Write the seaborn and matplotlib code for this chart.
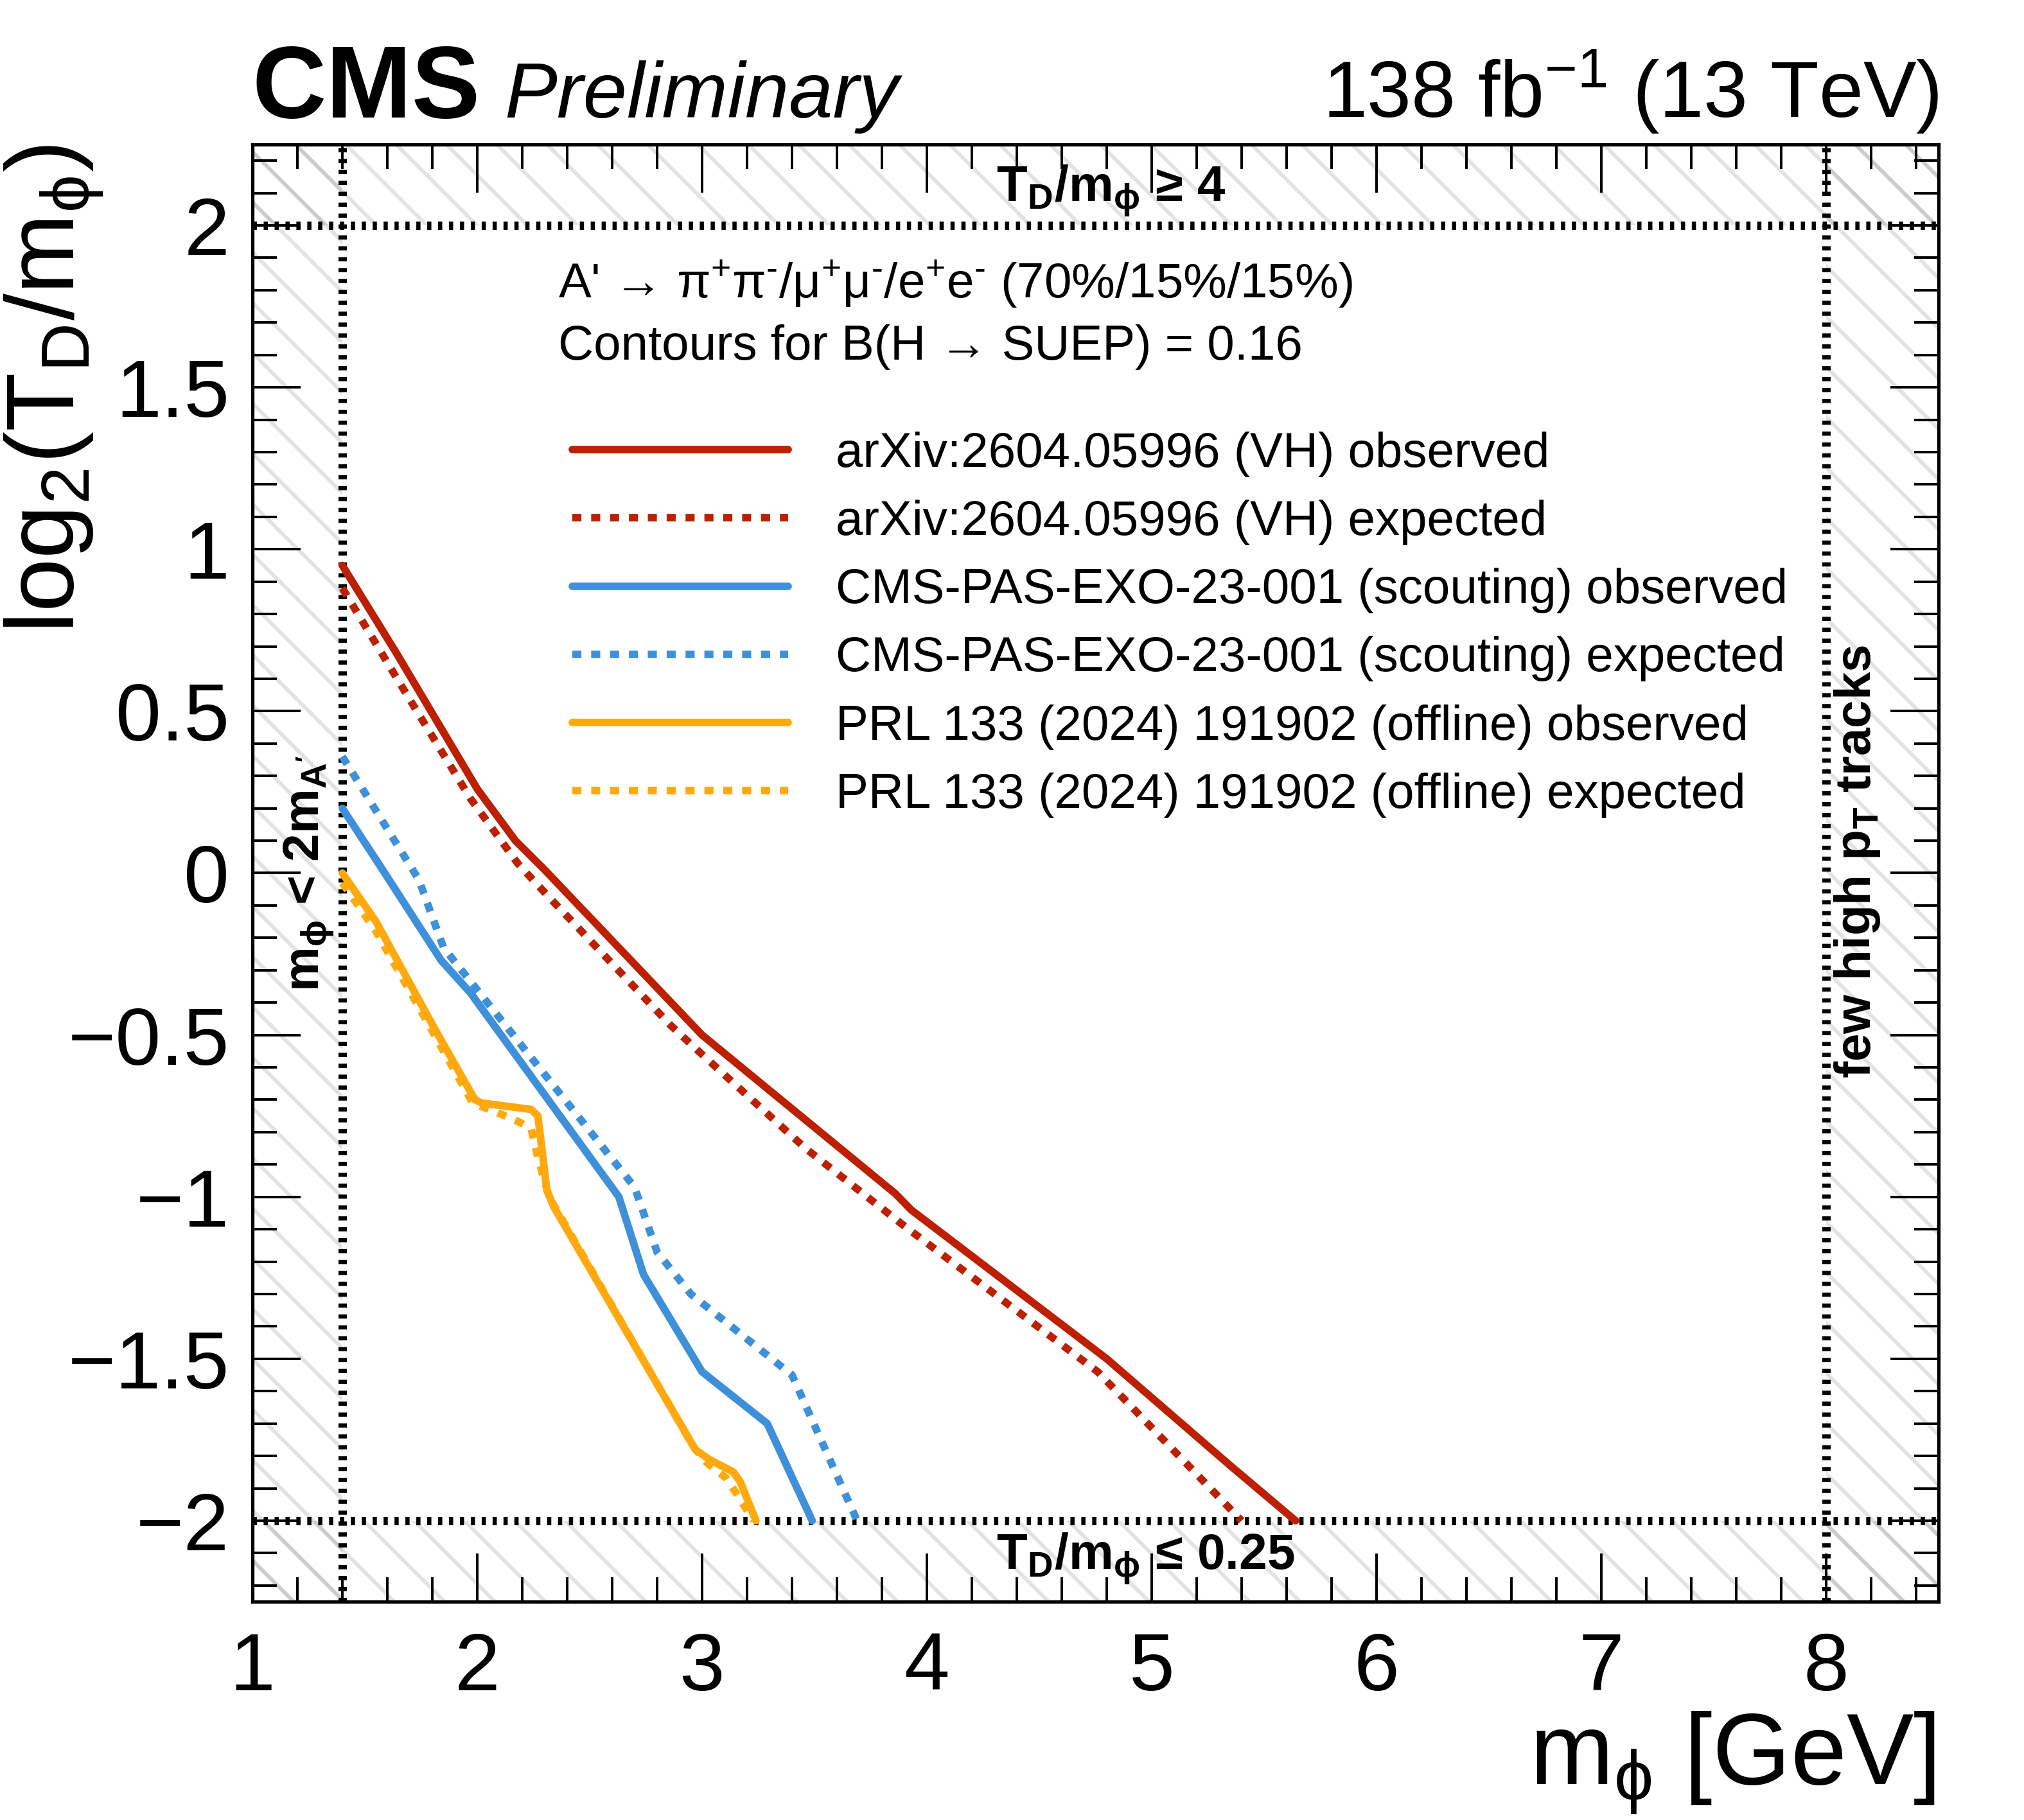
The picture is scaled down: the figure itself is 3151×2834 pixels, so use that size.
import matplotlib
matplotlib.use("Agg")
import matplotlib.pyplot as plt
from matplotlib.ticker import MultipleLocator, FuncFormatter
import seaborn as sns

# contour points: x = m_phi [GeV], y = log2(T_D/m_phi)
vh_obs_x = [1.40, 1.64, 2.00, 2.17, 2.30, 3.00, 3.86, 3.93, 4.80, 5.35, 5.64]
vh_obs_y = [0.95, 0.68, 0.26, 0.10, 0.01, -0.50, -0.99, -1.04, -1.50, -1.83, -2.00]

vh_exp_x = [1.40, 1.67, 1.97, 2.18, 2.30, 2.86, 3.00, 3.46, 3.90, 4.76, 5.40]
vh_exp_y = [0.88, 0.57, 0.23, 0.03, -0.06, -0.47, -0.56, -0.85, -1.09, -1.54, -2.00]

sc_obs_x = [1.40, 1.57, 1.84, 1.97, 2.63, 2.74, 3.00, 3.29, 3.49]
sc_obs_y = [0.20, 0.02, -0.27, -0.37, -1.00, -1.24, -1.54, -1.70, -2.00]

sc_exp_x = [1.40, 1.74, 1.85, 2.70, 2.80, 2.95, 3.40, 3.69]
sc_exp_y = [0.36, -0.02, -0.23, -0.97, -1.17, -1.30, -1.55, -2.00]

prl_obs_x = [1.40, 1.55, 1.81, 1.99, 2.02, 2.24, 2.27, 2.31, 2.34, 2.97, 3.03, 3.14, 3.17, 3.24]
prl_obs_y = [0.00, -0.15, -0.48, -0.70, -0.71, -0.73, -0.75, -0.98, -1.03, -1.78, -1.81, -1.85, -1.88, -2.00]

prl_exp_x = [1.40, 1.55, 1.81, 1.98, 2.09, 2.19, 2.24, 2.27, 2.32, 2.96, 3.02, 3.11, 3.23]
prl_exp_y = [-0.03, -0.18, -0.50, -0.71, -0.74, -0.77, -0.79, -0.88, -1.00, -1.77, -1.82, -1.87, -2.00]

legend_labels = [
    "arXiv:2604.05996 (VH) observed",
    "arXiv:2604.05996 (VH) expected",
    "CMS-PAS-EXO-23-001 (scouting) observed",
    "CMS-PAS-EXO-23-001 (scouting) expected",
    "PRL 133 (2024) 191902 (offline) observed",
    "PRL 133 (2024) 191902 (offline) expected",
]

# excluded regions
mphi_min, mphi_max = 1.4, 8.0
logt_min, logt_max = -2.0, 2.0
x_lim = (1.0, 8.5)
y_lim = (-2.25, 2.25)

RED, BLUE, ORANGE = "#bd1f01", "#3f90da", "#ffa90e"
DASHED = (0, (1.2, 1.3))
DOTTED = (0, (0.5, 0.8))
DPI = 470

sns.set_style("ticks")
plt.rcParams.update({
    "font.family": ["Liberation Sans", "DejaVu Sans"],
    "mathtext.fontset": "custom",
    "mathtext.rm": "Liberation Sans",
    "mathtext.it": "Liberation Sans:italic",
    "mathtext.bf": "Liberation Sans:bold",
    "mathtext.sf": "Liberation Sans",
    "mathtext.default": "regular",
    "hatch.linewidth": 0.9,
    "axes.linewidth": 0.8,
    "axes.edgecolor": "black",
    "text.color": "black",
    "axes.labelcolor": "black",
    "xtick.color": "black",
    "ytick.color": "black",
})

fig = plt.figure(figsize=(3151 / DPI, 2834 / DPI), dpi=DPI)
ax = fig.add_axes([0.1247, 0.11997, 0.83307, 0.80064])

# hatched regions outside the valid parameter space
hatch_col = (0.45, 0.45, 0.45, 0.2)
for lo, hi in [(x_lim[0], mphi_min), (mphi_max, x_lim[1])]:
    ax.axvspan(lo, hi, hatch="\\\\", fill=False, edgecolor=hatch_col, linewidth=0, zorder=0.5)
for lo, hi in [(y_lim[0], logt_min), (logt_max, y_lim[1])]:
    ax.axhspan(lo, hi, hatch="\\\\", fill=False, edgecolor=hatch_col, linewidth=0, zorder=0.5)

for xv in (mphi_min, mphi_max):
    ax.axvline(xv, color="black", lw=2.0, linestyle=DOTTED, dash_capstyle="butt", zorder=1)
for yv in (logt_min, logt_max):
    ax.axhline(yv, color="black", lw=2.0, linestyle=DOTTED, dash_capstyle="butt", zorder=1)

series = [
    (vh_obs_x, vh_obs_y, RED, "-"),
    (vh_exp_x, vh_exp_y, RED, DASHED),
    (sc_obs_x, sc_obs_y, BLUE, "-"),
    (sc_exp_x, sc_exp_y, BLUE, DASHED),
    (prl_obs_x, prl_obs_y, ORANGE, "-"),
    (prl_exp_x, prl_exp_y, ORANGE, DASHED),
]
for (xs, ys, col, ls), lab in zip(series, legend_labels):
    sns.lineplot(x=xs, y=ys, ax=ax, color=col, linewidth=1.8, linestyle=ls,
                 label=lab, sort=False, estimator=None, zorder=3)

ax.set_xlim(*x_lim)
ax.set_ylim(*y_lim)

ax.xaxis.set_major_locator(MultipleLocator(1))
ax.xaxis.set_minor_locator(MultipleLocator(0.2))
ax.yaxis.set_major_locator(MultipleLocator(0.5))
ax.yaxis.set_minor_locator(MultipleLocator(0.1))


def fmt(v, pos):
    if abs(v) < 1e-9:
        return "0"
    return f"{v:g}".replace("-", "\u2212")


ax.yaxis.set_major_formatter(FuncFormatter(fmt))
ax.tick_params(which="both", direction="in", top=True, right=True, width=0.6, color="black")
ax.tick_params(which="major", length=11.5, labelsize=19.5)
ax.tick_params(which="minor", length=5.8)
ax.tick_params(axis="x", pad=7)
ax.tick_params(axis="y", pad=5.5)

ax.set_xlabel(r"m$_{\phi}$ [GeV]", fontsize=24, ha="right", va="baseline")
ax.xaxis.set_label_coords(0.998, -0.1252)
ax.set_ylabel(r"log$_{2}$(T$_{D}$/m$_{\phi}$)", fontsize=23, rotation=90,
              rotation_mode="anchor", ha="right", va="baseline")
ax.yaxis.set_label_coords(-0.1055, 1.0)

handles, labels = ax.get_legend_handles_labels()
ax.legend(handles, labels, loc="upper left", bbox_to_anchor=(0.1897, 0.803),
          frameon=False, fontsize=11.7, handlelength=4.4, handletextpad=0.97,
          labelspacing=0.46, borderpad=0, borderaxespad=0)

ax.text(0.1813, 0.8947,
        "A' \u2192 $\\pi^{+}\\pi^{\u2010}$/$\\mu^{+}\\mu^{\u2010}$/e$^{+}$e$^{\u2010}$ (70%/15%/15%)",
        transform=ax.transAxes, fontsize=11.7, va="baseline")
ax.text(0.1813, 0.8524, "Contours for B(H \u2192 SUEP) = 0.16",
        transform=ax.transAxes, fontsize=11.7, va="baseline")

ax.text(4.31, 2.072, "$\\mathbf{T}_{\\mathbf{D}}$/$\\mathbf{m}_{\\phi}$ \u2265 4",
        fontsize=12, fontweight="bold", va="baseline")
ax.text(4.31, -2.153, "$\\mathbf{T}_{\\mathbf{D}}$/$\\mathbf{m}_{\\phi}$ \u2264 0.25",
        fontsize=12, fontweight="bold", va="baseline")
ax.text(1.30, -0.366, r"$\mathbf{m}_{\phi}$ < 2$\mathbf{m}_{\mathbf{A'}}$",
        fontsize=12, fontweight="bold", rotation=90, rotation_mode="anchor",
        ha="left", va="baseline")
ax.text(8.197, -0.634, r"few high $\mathbf{p}_{\mathbf{T}}$ tracks",
        fontsize=12, fontweight="bold", rotation=90, rotation_mode="anchor",
        ha="left", va="baseline")

ax.text(0.0, 1.0185, "CMS", transform=ax.transAxes, fontsize=24.5,
        fontweight="bold", va="baseline")
ax.text(0.1493, 1.0185, "Preliminary", transform=ax.transAxes, fontsize=18.8,
        style="italic", va="baseline")
ax.text(1.0, 1.0185, r"138 fb$^{-1}$ (13 TeV)", transform=ax.transAxes,
        fontsize=19.0, ha="right", va="baseline")

fig.savefig("out.png", dpi=DPI)
